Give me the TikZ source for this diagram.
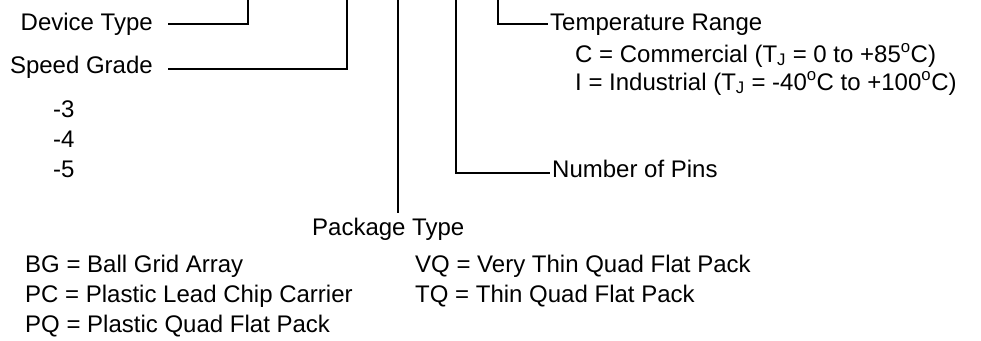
\documentclass[tikz,border=0pt]{standalone}
\usepackage{fontspec}
\setmainfont{Liberation Sans}
\begin{document}
\begin{tikzpicture}[x=1pt,y=-1pt,
	lbl/.style={inner sep=0pt,font=\fontsize{24}{28}\selectfont},
	wire/.style={line width=2.2pt}]
	\useasboundingbox (0,0) rectangle (981,340);
	\node[lbl,anchor=base east] (dev) at (153,30) {Device Type};
	\node[lbl,anchor=base east] (spd) at (153,73) {Speed Grade};
	\node[lbl,anchor=base west] (s3) at (53,117) {-3};
	\node[lbl,anchor=base west] (s4) at (53,147) {-4};
	\node[lbl,anchor=base west] (s5) at (53,177) {-5};
	\node[lbl,anchor=base west] (temp) at (550,30) {Temperature Range};
	\node[lbl,anchor=base west] (tc) at (575,62) {C = Commercial (T\textsubscript{J} = 0 to +85\textsuperscript{o}C)};
	\node[lbl,anchor=base west] (ti) at (575,90) {I = Industrial (T\textsubscript{J} = -40\textsuperscript{o}C to +100\textsuperscript{o}C)};
	\node[lbl,anchor=base west] (pins) at (552,177) {Number of Pins};
	\node[lbl,anchor=base west] (pkg) at (312,235) {Package Type};
	\node[lbl,anchor=base west] (bg) at (25,272) {BG = Ball Grid Array};
	\node[lbl,anchor=base west] (pc) at (25,302) {PC = Plastic Lead Chip Carrier};
	\node[lbl,anchor=base west] (pq) at (25,332) {PQ = Plastic Quad Flat Pack};
	\node[lbl,anchor=base west] (vq) at (415,272) {VQ = Very Thin Quad Flat Pack};
	\node[lbl,anchor=base west] (tq) at (415,302) {TQ = Thin Quad Flat Pack};
	\coordinate (devtop) at (248,0);
	\coordinate (spdtop) at (347,0);
	\coordinate (pkgtop) at (398,0);
	\coordinate (pkgend) at (398,213);
	\coordinate (pintop) at (456,0);
	\coordinate (temptop) at (498,0);
	\draw[wire] ([shift={(15,-6)}]dev.base east) -| (devtop);
	\draw[wire] ([shift={(15,-4)}]spd.base east) -| (spdtop);
	\draw[wire] (pkgtop) -- (pkgend);
	\draw[wire] (pintop) |- ([shift={(-2,-4)}]pins.base west);
	\draw[wire] (temptop) |- ([shift={(-2,-6)}]temp.base west);
\end{tikzpicture}
\end{document}
